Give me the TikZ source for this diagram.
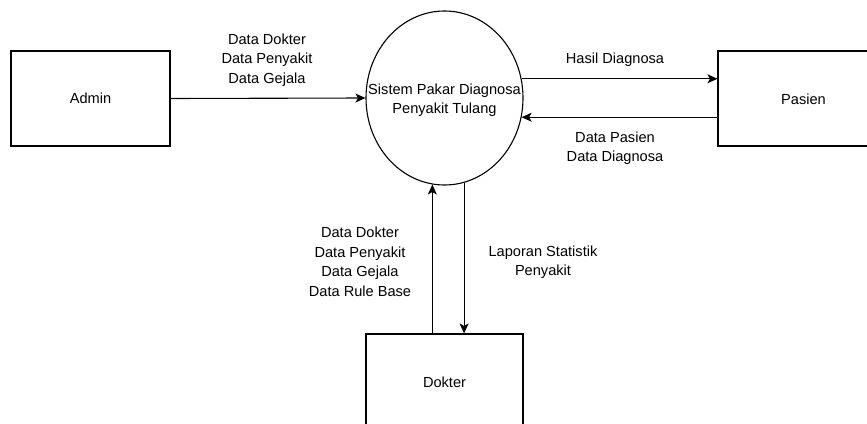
\documentclass[tikz,border=0pt]{standalone}
\usepackage{fontspec}
\setmainfont{Liberation Sans}
\usetikzlibrary{arrows.meta,shapes.geometric}
\begin{document}
\begin{tikzpicture}[x=1pt,y=-1pt,
  every node/.style={font=\fontsize{14.6}{19.5}\selectfont},
  entity/.style={draw,line width=1.1pt,rectangle,inner sep=0pt},
  process/.style={draw,line width=1.1pt,ellipse,inner sep=0pt,minimum width=157pt,minimum height=174pt},
  lbl/.style={align=center,inner sep=0pt},
  flow/.style={line width=1.1pt,-{Stealth[length=10pt,width=9pt,inset=2.5pt]}}]
\useasboundingbox (0,0) rectangle (867,423);
\clip (0,0) rectangle (867,423);

% external entities
\node[entity,minimum width=159pt,minimum height=95pt] (admin) at (90.5,98.5) {Admin};
\node[entity,minimum width=171pt,minimum height=95pt] (pasien) at (803.5,98.5) {};
\node[lbl] (pasienlbl) at (803.5,99) {Pasien};
\node[entity,minimum width=157pt,minimum height=96pt] (dokter) at (444.5,382) {};
\node[lbl] (dokterlbl) at (444.5,382) {Dokter};

% central process
\node[process] (sys) at (444.5,98) {};
\node[lbl] (syslbl) at (444.5,100) {Sistem Pakar Diagnosa\\Penyakit Tulang};

% data flows
\draw[flow] (admin.east) -- (sys.west);
\draw[flow] (sys.14.67) -- (sys.14.67 -| pasien.west);
\draw[flow] (sys.-14.67 -| pasien.west) -- (sys.-14.67);
\draw[flow] (sys.-98.3 |- dokter.north) -- (sys.-98.3);
\draw[flow] (sys.-77.65) -- (sys.-77.65 |- dokter.north);

% flow labels
\node[lbl] (l1) at (267,60) {Data Dokter\\Data Penyakit\\Data Gejala};
\node[lbl] (l2) at (615,60) {Hasil Diagnosa};
\node[lbl] (l3) at (615,148) {Data Pasien\\Data Diagnosa};
\node[lbl] (l4) at (360,262) {Data Dokter\\Data Penyakit\\Data Gejala\\Data Rule Base};
\node[lbl] (l5) at (543,262) {Laporan Statistik\\Penyakit};
\end{tikzpicture}
\end{document}
